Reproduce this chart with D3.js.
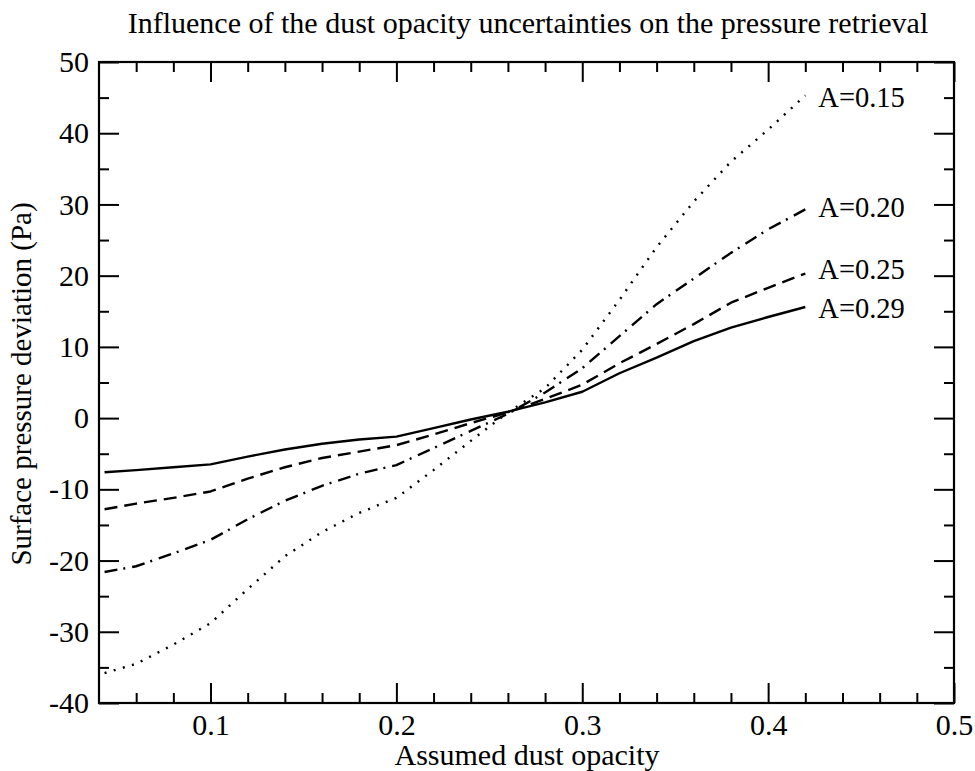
<!DOCTYPE html>
<html>
<head>
<meta charset="utf-8">
<script src="https://cdn.jsdelivr.net/npm/d3@7"></script>
<style>
  html, body { margin: 0; padding: 0; background: #fff; }
  svg { display: block; font-family: "Liberation Serif", "Times New Roman", serif; }
</style>
</head>
<body>
<svg id="chart" width="975" height="771"></svg>
<script>
// ---------------- data ----------------
const opacity = [0.043, 0.06, 0.08, 0.10, 0.12, 0.14, 0.16, 0.18, 0.20, 0.22, 0.24,
                 0.26, 0.28, 0.30, 0.32, 0.34, 0.36, 0.38, 0.40, 0.42];
const devA015 = [-35.8, -34.5, -31.8, -28.8, -24.0, -19.4, -16.0, -13.3, -11.2, -7.3, -3.2,
                 0.8, 4.2, 9.6, 16.6, 24.0, 30.4, 36.0, 40.5, 45.3];
const devA020 = [-21.6, -20.8, -19.0, -17.1, -14.2, -11.6, -9.5, -7.8, -6.6, -4.2, -1.8,
                 0.6, 3.6, 7.0, 11.5, 16.0, 19.6, 23.2, 26.5, 29.3];
const devA025 = [-12.8, -12.0, -11.2, -10.3, -8.5, -6.9, -5.6, -4.7, -3.8, -2.3, -0.7,
                 0.8, 2.7, 4.7, 7.7, 10.4, 13.2, 16.2, 18.3, 20.3];
const devA029 = [-7.6, -7.3, -6.9, -6.5, -5.4, -4.4, -3.6, -3.0, -2.6, -1.4, -0.2,
                 0.9, 2.2, 3.7, 6.3, 8.5, 10.8, 12.7, 14.2, 15.6];
const seriesNames = ["A=0.15", "A=0.20", "A=0.25", "A=0.29"];
const labelValues = [45, 29.6, 20.9, 15.4];   // vertical anchor (data units) of each curve label
const xTicks = [0.1, 0.2, 0.3, 0.4, 0.5];
const xMinorTicks = [0.06, 0.08, 0.12, 0.14, 0.16, 0.18, 0.22, 0.24, 0.26, 0.28,
                     0.32, 0.34, 0.36, 0.38, 0.42, 0.44, 0.46, 0.48];
const yTicks = [-40, -30, -20, -10, 0, 10, 20, 30, 40, 50];
const yMinorTicks = [-35, -25, -15, -5, 5, 15, 25, 35, 45];
const titleText = "Influence of the dust opacity uncertainties on the pressure retrieval";
const xLabel = "Assumed dust opacity";
const yLabel = "Surface pressure deviation (Pa)";

// ---------------- layout ----------------
(function () {
const svg = d3.select("#chart");
const mL = 99, mR = 954, mT = 62, mB = 703;
const x = d3.scaleLinear().domain([0.04, 0.5]).range([mL, mR]);
const y = d3.scaleLinear().domain([-40, 50]).range([mB, mT]);

const seriesData = [devA015, devA020, devA025, devA029];
const dashes = ["2,7.5", "13,6,2,7", "13,7", null];

// lines
const line = d3.line().x((d, i) => x(opacity[i])).y(d => y(d));
const plot = svg.append("g");
seriesData.forEach((vals, k) => {
  plot.append("path")
    .datum(vals)
    .attr("d", line)
    .attr("fill", "none")
    .attr("stroke", "#000")
    .attr("stroke-width", 2.4)
    .attr("stroke-dasharray", dashes[k])
    .attr("stroke-linejoin", "round");
});

// labels next to curve ends
seriesNames.forEach((name, k) => {
  svg.append("text")
    .attr("x", x(opacity[opacity.length - 1]) + 13)
    .attr("y", y(labelValues[k]))
    .attr("dy", "0.33em")
    .attr("font-size", 28.5)
    .attr("fill", "#000")
    .text(name);
});

// axes
function styleAxis(g) {
  g.select(".domain").remove();
  g.selectAll(".tick line").attr("stroke", "#000").attr("stroke-width", 2);
  g.selectAll(".tick text").attr("font-size", 30).attr("fill", "#000")
    .attr("font-family", "Liberation Serif, Times New Roman, serif");
}
svg.append("g").attr("transform", `translate(0,${mB})`)
  .call(d3.axisBottom(x).tickValues(xTicks).tickSize(-20).tickPadding(11).tickFormat(d3.format(".1f")))
  .call(styleAxis);
svg.append("g").attr("transform", `translate(0,${mB})`)
  .call(d3.axisBottom(x).tickValues(xMinorTicks).tickSize(-10).tickFormat(""))
  .call(styleAxis);
svg.append("g").attr("transform", `translate(0,${mT})`)
  .call(d3.axisTop(x).tickValues(xTicks).tickSize(-20).tickFormat(""))
  .call(styleAxis);
svg.append("g").attr("transform", `translate(0,${mT})`)
  .call(d3.axisTop(x).tickValues(xMinorTicks).tickSize(-10).tickFormat(""))
  .call(styleAxis);
svg.append("g").attr("transform", `translate(${mL},0)`)
  .call(d3.axisLeft(y).tickValues(yTicks).tickSize(-20).tickPadding(10).tickFormat(d => String(d)))
  .call(styleAxis);
svg.append("g").attr("transform", `translate(${mL},0)`)
  .call(d3.axisLeft(y).tickValues(yMinorTicks).tickSize(-10).tickFormat(""))
  .call(styleAxis);
svg.append("g").attr("transform", `translate(${mR},0)`)
  .call(d3.axisRight(y).tickValues(yTicks).tickSize(-20).tickFormat(""))
  .call(styleAxis);
svg.append("g").attr("transform", `translate(${mR},0)`)
  .call(d3.axisRight(y).tickValues(yMinorTicks).tickSize(-10).tickFormat(""))
  .call(styleAxis);

// frame
svg.append("rect")
  .attr("x", mL).attr("y", mT)
  .attr("width", mR - mL).attr("height", mB - mT)
  .attr("fill", "none").attr("stroke", "#000").attr("stroke-width", 2.2);

// title and axis labels
svg.append("text")
  .attr("x", 528).attr("y", 33)
  .attr("text-anchor", "middle").attr("font-size", 30).attr("fill", "#000")
  .text(titleText);
svg.append("text")
  .attr("x", 527).attr("y", 765)
  .attr("text-anchor", "middle").attr("font-size", 30).attr("fill", "#000")
  .text(xLabel);
svg.append("text")
  .attr("transform", `translate(31,${384}) rotate(-90)`)
  .attr("text-anchor", "middle").attr("font-size", 29).attr("fill", "#000")
  .text(yLabel);
})();
</script>
</body>
</html>
